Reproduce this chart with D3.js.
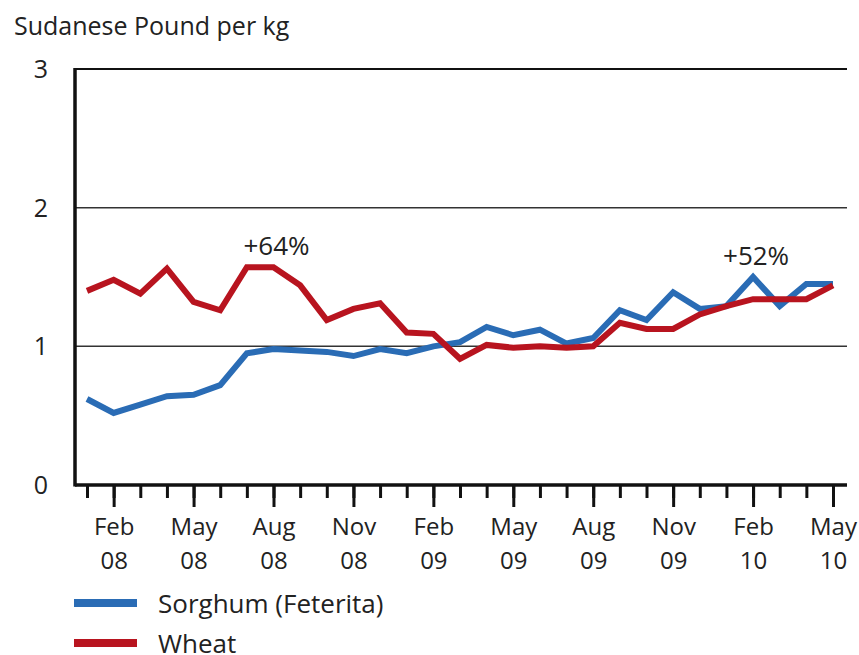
<!DOCTYPE html>
<html>
<head>
<meta charset="utf-8">
<script src="https://cdn.jsdelivr.net/npm/d3@7"></script>
<style>
  body { margin: 0; background: #fff; }
  text { font-family: "Open Sans", sans-serif; fill: #222; }
</style>
</head>
<body>
<svg id="mainSvg" width="859" height="655"></svg>
<script>
// monthly prices, Jan 08 - May 10
var months = ["Jan 08","Feb 08","Mar 08","Apr 08","May 08","Jun 08","Jul 08","Aug 08","Sep 08","Oct 08","Nov 08","Dec 08",
              "Jan 09","Feb 09","Mar 09","Apr 09","May 09","Jun 09","Jul 09","Aug 09","Sep 09","Oct 09","Nov 09","Dec 09",
              "Jan 10","Feb 10","Mar 10","Apr 10","May 10"];

var sorghum = [0.62,0.52,0.58,0.64,0.65,0.72,0.95,0.98,0.97,0.96,0.93,0.98,
               0.95,1.00,1.03,1.14,1.08,1.12,1.02,1.06,1.26,1.19,1.39,1.27,
               1.29,1.50,1.29,1.45,1.45];

var wheat = [1.40,1.48,1.38,1.56,1.32,1.26,1.57,1.57,1.44,1.19,1.27,1.31,
             1.10,1.09,0.91,1.01,0.99,1.00,0.99,1.00,1.17,1.125,1.125,1.23,
             1.29,1.34,1.34,1.34,1.44];

var labelMonths = ["Feb 08","May 08","Aug 08","Nov 08","Feb 09","May 09","Aug 09","Nov 09","Feb 10","May 10"];
var yTicks = [0, 1, 2, 3];

var seriesNames = ["Sorghum (Feterita)", "Wheat"];
var seriesColors = ["#2a6cb5", "#b8141f"];

var annotations = [
  { month: "Aug 08", value: 1.57, text: "+64%" },
  { month: "Feb 10", value: 1.50, text: "+52%" }
];

var svg = d3.select("#mainSvg");

var x = d3.scalePoint()
  .domain(months)
  .range([87, 833]);

var y = d3.scaleLinear()
  .domain([0, 3])
  .range([485, 69]);

var left = 75, right = 847;

// gridlines
svg.append("g")
  .selectAll("line")
  .data(yTicks.filter(function(d){ return d > 0; }))
  .enter().append("line")
  .attr("x1", left).attr("x2", right)
  .attr("y1", function(d){ return y(d); })
  .attr("y2", function(d){ return y(d); })
  .attr("stroke", function(d){ return d == 3 ? "#111" : "#333"; })
  .attr("stroke-width", function(d){ return d == 3 ? 2 : 1.5; });

// y labels
svg.append("g")
  .selectAll("text")
  .data(yTicks)
  .enter().append("text")
  .attr("x", 48)
  .attr("y", function(d){ return y(d); })
  .attr("dy", "0.36em")
  .attr("text-anchor", "end")
  .style("font-size", "25px")
  .text(function(d){ return d; });

// title
svg.append("text")
  .attr("x", 14)
  .attr("y", 35)
  .style("font-size", "25px")
  .text("Sudanese Pound per kg");

// minor ticks, every month
svg.append("g")
  .attr("transform", "translate(0," + y(0) + ")")
  .call(d3.axisBottom(x).tickSize(13).tickFormat(""))
  .call(function(g){
    g.select(".domain").remove();
    g.selectAll(".tick line").attr("stroke", "#111").attr("stroke-width", 3);
  });

// labelled ticks
var lab = svg.append("g")
  .attr("transform", "translate(0," + y(0) + ")")
  .call(d3.axisBottom(x).tickValues(labelMonths).tickSize(22).tickFormat(""));
lab.select(".domain").remove();
lab.selectAll(".tick line").attr("stroke", "#111").attr("stroke-width", 3);
lab.selectAll(".tick").append("text")
  .attr("text-anchor", "middle")
  .style("font-size", "24px")
  .selectAll("tspan")
  .data(function(d){ return d.split(" "); })
  .enter().append("tspan")
  .attr("x", 0)
  .attr("y", function(d, i){ return 50 + i * 34; })
  .text(function(d){ return d; });

// axes lines
svg.append("line")
  .attr("x1", left).attr("x2", right)
  .attr("y1", y(0)).attr("y2", y(0))
  .attr("stroke", "#111").attr("stroke-width", 3.5);
svg.append("line")
  .attr("x1", left).attr("x2", left)
  .attr("y1", y(3) - 1).attr("y2", y(0) + 1.5)
  .attr("stroke", "#111").attr("stroke-width", 3.5);

// lines
var line = d3.line()
  .x(function(d, i){ return x(months[i]); })
  .y(function(d){ return y(d); });

[sorghum, wheat].forEach(function(s, k){
  svg.append("path")
    .datum(s)
    .attr("d", line)
    .attr("fill", "none")
    .attr("stroke", seriesColors[k])
    .attr("stroke-width", 6)
    .attr("stroke-linejoin", "miter");
});

// annotations
svg.append("g")
  .selectAll("text")
  .data(annotations)
  .enter().append("text")
  .attr("x", function(d){ return x(d.month) + 3; })
  .attr("y", function(d){ return y(d.value) - 12; })
  .attr("text-anchor", "middle")
  .style("font-size", "26px")
  .text(function(d){ return d.text; });

// legend
var leg = svg.append("g")
  .selectAll("g")
  .data(seriesNames)
  .enter().append("g")
  .attr("transform", function(d, i){ return "translate(74," + (603 + i * 40) + ")"; });
leg.append("line")
  .attr("x1", 0).attr("x2", 63)
  .attr("stroke", function(d, i){ return seriesColors[i]; })
  .attr("stroke-width", 8);
leg.append("text")
  .attr("x", 84)
  .attr("y", 10)
  .style("font-size", "26px")
  .text(function(d){ return d; });
</script>
</body>
</html>
